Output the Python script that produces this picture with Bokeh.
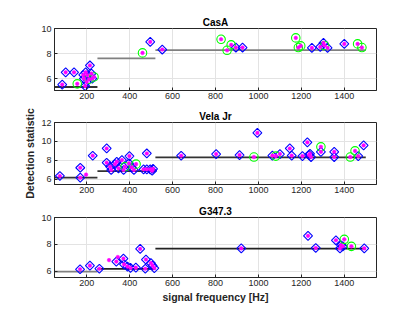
from math import pi
from bokeh.plotting import figure
from bokeh.layouts import column
from bokeh.models import Range1d, FixedTicker
from bokeh.embed import file_html
from bokeh.resources import INLINE

# ---------------- data ----------------
seg_lo = [50, 250, 520]
seg_hi = [250, 520, 1500]
x_ticks = [200, 400, 600, 800, 1000, 1200, 1400]

# CasA
cas_dia_f = [86, 102, 141, 184, 193, 215, 195, 203, 222, 187, 226, 200, 496, 552, 895, 926, 1249, 1288, 1303, 1322, 1400]
cas_dia_v = [5.52, 6.5, 6.5, 6.29, 5.4, 7.05, 6.5, 6.26, 6.4, 6.0, 6.0, 5.73, 8.93, 8.32, 8.48, 8.48, 8.45, 8.53, 8.85, 8.45, 8.77]
cas_grn_f = [156, 211, 234, 460, 826, 854, 873, 1174, 1186, 1197, 1308, 1462, 1482]
cas_grn_v = [5.58, 5.95, 6.13, 8.05, 9.14, 8.26, 8.69, 9.25, 8.48, 8.61, 8.64, 8.77, 8.48]
cas_dot_f = []
cas_dot_v = []
cas_thr = [5.33, 7.62, 8.27]
cas_yticks = [6, 8, 10]

# Vela Jr
vela_dia_f = [75, 170, 170, 228, 293, 293, 309, 314, 332, 340, 348, 364, 372, 399, 397, 410, 420, 480, 465, 480, 496, 509, 505,
              640, 803, 912, 995, 1065, 1100, 1146, 1155, 1205, 1228, 1236, 1240, 1245, 1291, 1353, 1353, 1465, 1490]
vela_dia_v = [6.35, 7.22, 6.17, 8.49, 9.26, 7.75, 7.33, 6.98, 7.6, 7.85, 7.16, 8.03, 6.98, 8.45, 7.68, 7.26, 6.98, 8.73, 7.05, 7.05, 7.05, 7.1, 6.9,
              8.49, 8.66, 8.56, 10.9, 8.5, 8.66, 9.26, 8.5, 8.45, 9.9, 8.56, 8.7, 8.35, 8.9, 8.9, 8.35, 8.45, 9.58]
vela_grn_f = [379, 430, 979, 1081, 1291, 1428, 1450]
vela_grn_v = [7.33, 7.6, 8.35, 8.45, 9.43, 8.35, 9.0]
vela_dot_f = [197]
vela_dot_v = [6.49]
vela_thr = [6.17, 6.87, 8.32]
vela_yticks = [6, 8, 10, 12]

# G347.3
g_dia_f = [169, 215, 259, 338, 371, 374, 390, 404, 429, 449, 476, 473, 499, 507, 515, 920, 1231, 1267, 1361, 1385, 1393, 1380, 1493]
g_dia_v = [6.16, 6.43, 6.2, 6.73, 6.95, 6.52, 6.36, 6.26, 6.28, 7.67, 6.88, 6.2, 6.62, 6.43, 6.24, 7.71, 8.64, 7.74, 8.31, 7.93, 7.86, 7.7, 7.71]
g_grn_f = [1400, 1433]
g_grn_v = [8.38, 7.86]
g_dot_f = [304, 345]
g_dot_v = [6.84, 7.07]
g_thr = [5.98, 6.19, 7.69]
g_yticks = [6, 8, 10]

FONT = "Liberation Sans"
AX = "#262626"


def panel(title, yr, yticks, dia_f, dia_v, grn_f, grn_v, dot_f, dot_v, thr, seg_colors,
          height, btop, bbot, xlabel=None, ylabel=None):
    p = figure(width=415, height=height, output_backend="svg", toolbar_location=None,
               x_range=Range1d(50, 1550), y_range=Range1d(*yr),
               min_border_left=54, min_border_right=39, min_border_top=btop, min_border_bottom=bbot)
    p.title.text = title
    p.title.align = "center"
    p.title.text_font = FONT
    p.title.text_font_size = "10px"
    p.title.text_font_style = "bold"
    p.title.text_color = "black"
    p.title.standoff = 2
    p.outline_line_color = AX
    p.outline_line_alpha = 1.0
    p.xaxis.ticker = FixedTicker(ticks=x_ticks)
    p.yaxis.ticker = FixedTicker(ticks=yticks)
    for ax in (p.xaxis[0], p.yaxis[0]):
        ax.axis_line_color = AX
        ax.major_tick_line_color = AX
        ax.major_tick_in = 3
        ax.major_tick_out = 0
        ax.minor_tick_line_color = None
        ax.major_label_text_font = FONT
        ax.major_label_text_font_size = "9px"
        ax.major_label_text_color = AX
        ax.major_label_standoff = 3
    p.xaxis.major_label_standoff = 2
    p.xgrid.grid_line_color = "#e3e3e3"
    p.ygrid.grid_line_color = "#e3e3e3"
    if xlabel:
        p.xaxis.axis_label = xlabel
        p.xaxis.axis_label_text_font = FONT
        p.xaxis.axis_label_text_font_size = "10.5px"
        p.xaxis.axis_label_text_font_style = "bold"
        p.xaxis.axis_label_text_color = AX
        p.xaxis.axis_label_standoff = 2
    if ylabel:
        p.yaxis.axis_label = ylabel
        p.yaxis.axis_label_text_font = FONT
        p.yaxis.axis_label_text_font_size = "10.5px"
        p.yaxis.axis_label_text_font_style = "bold"
        p.yaxis.axis_label_text_color = AX
        p.yaxis.axis_label_standoff = 2

    p.segment(x0=seg_lo, y0=thr, x1=seg_hi, y1=thr, line_color=seg_colors, line_width=1.8)
    p.scatter(dia_f, dia_v, marker="square", angle=pi / 4, size=6.3, fill_color=None,
              line_color="#0000ff", line_width=1.1)
    p.scatter(grn_f, grn_v, marker="circle", size=8.5, fill_color=None,
              line_color="#00ff00", line_width=1.1)
    p.scatter(dia_f + grn_f + dot_f, dia_v + grn_v + dot_v, marker="circle", size=3.6,
              fill_color="#ff00ff", line_color="#ff00ff", line_width=0.5)
    return p


p1 = panel("CasA", (5.05, 10), cas_yticks, cas_dia_f, cas_dia_v, cas_grn_f, cas_grn_v,
           cas_dot_f, cas_dot_v, cas_thr, ["#333333", "#808080", "#808080"], 106, 28, 16)
p2 = panel("Vela Jr", (5.45, 12), vela_yticks, vela_dia_f, vela_dia_v, vela_grn_f, vela_grn_v,
           vela_dot_f, vela_dot_v, vela_thr, ["#333333", "#333333", "#333333"], 96, 16, 18,
           ylabel="Detection statistic")
p3 = panel("G347.3", (5.55, 10), g_yticks, g_dia_f, g_dia_v, g_grn_f, g_grn_v,
           g_dot_f, g_dot_v, g_thr, ["#808080", "#222222", "#222222"], 110, 13, 35,
           xlabel="signal frequency [Hz]")

layout = column(p1, p2, p3)
open("out.html", "w").write(file_html(layout, INLINE))
